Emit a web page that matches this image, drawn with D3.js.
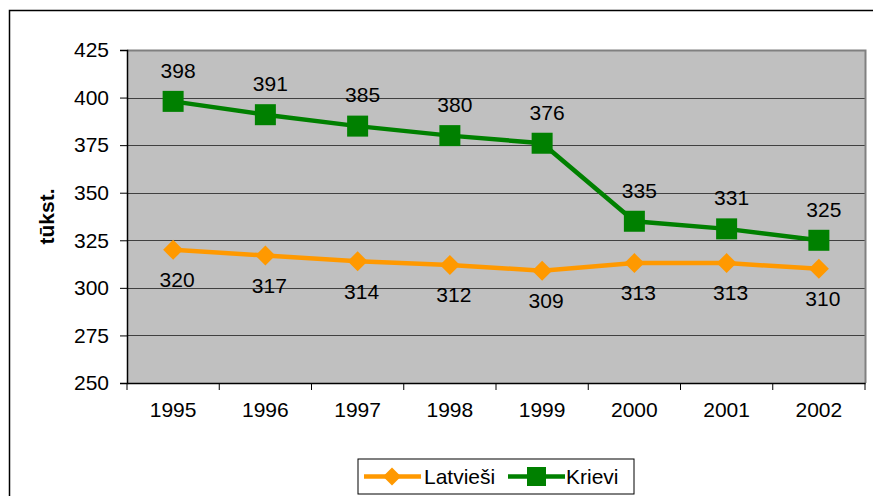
<!DOCTYPE html>
<html><head><meta charset="utf-8">
<script src="https://cdn.jsdelivr.net/npm/d3@7/dist/d3.min.js"></script>
<style>body{margin:0;background:#fff;}svg{display:block;font-family:"Liberation Sans",Arial,sans-serif;}</style>
</head><body><svg id="c" width="873" height="496"></svg>
<script>
const years = ["1995","1996","1997","1998","1999","2000","2001","2002"];
const latviesi = [320,317,314,312,309,313,313,310];
const krievi = [398,391,385,380,376,335,331,325];
const yTicks = [250,275,300,325,350,375,400,425];
const seriesNames = ["Latvieši","Krievi"];
const axisTitle = "tūkst.";

const FS = 21;
const svg = d3.select("#c");
const L=127, T=50, R=865, B=383;
// outer border
svg.append("rect").attr("x",9.5).attr("y",10.5).attr("width",880).attr("height",500)
  .attr("fill","#fff").attr("stroke","#000").attr("stroke-width",1.5);

const x = d3.scaleBand().domain(years).range([L,R]).padding(0);
const y = d3.scaleLinear().domain([250,425]).range([B,T]);

svg.append("rect").attr("x",L).attr("y",T).attr("width",R-L).attr("height",B-T).attr("fill","#C0C0C0");
// gridlines
svg.append("g").selectAll("line").data(yTicks.filter(d=>d>250)).join("line")
  .attr("x1",L).attr("x2",R).attr("y1",d=>Math.round(y(d))+0.5).attr("y2",d=>Math.round(y(d))+0.5)
  .attr("stroke","#404040").attr("stroke-width",1);
// plot border top/right gray
svg.append("path").attr("d",`M${L},${T+0.5}H${R+0.5}V${B}`).attr("fill","none").attr("stroke","#808080").attr("stroke-width",2);

// y axis
const ya = svg.append("g").attr("transform",`translate(${L},0)`)
  .call(d3.axisLeft(y).tickValues(yTicks).tickSize(7).tickPadding(11).tickFormat(d3.format("d")));
ya.select(".domain").attr("stroke","#000").attr("stroke-width",1.5);
ya.selectAll(".tick line").attr("stroke","#000");
ya.selectAll("text").attr("font-size",FS).attr("font-family","Liberation Sans, Arial, sans-serif").attr("fill","#000");

// x axis
const xa = svg.append("g").attr("transform",`translate(0,${B})`)
  .call(d3.axisBottom(x).tickSize(0).tickPadding(19));
xa.select(".domain").attr("stroke","#000").attr("stroke-width",1.5);
xa.selectAll("text").attr("font-size",FS).attr("font-family","Liberation Sans, Arial, sans-serif").attr("fill","#000");
svg.append("g").selectAll("line").data(d3.range(years.length+1)).join("line")
  .attr("x1",i=>L+i*x.step()).attr("x2",i=>L+i*x.step())
  .attr("y1",B).attr("y2",B+7).attr("stroke","#000").attr("stroke-width",1);

svg.append("text").attr("transform",`translate(47,${(T+B)/2}) rotate(-90)`)
  .attr("text-anchor","middle").attr("dy","0.35em").attr("font-size",21).attr("font-weight","bold").text(axisTitle);

const cx = d=>x(d)+x.bandwidth()/2;
const line = d3.line().x((d,i)=>cx(years[i])).y(d=>y(d));

// Latviesi
svg.append("path").datum(latviesi).attr("d",line).attr("fill","none").attr("stroke","#FF9900").attr("stroke-width",4.5);
svg.append("g").selectAll("path").data(latviesi).join("path")
  .attr("transform",(d,i)=>`translate(${cx(years[i])},${y(d)})`)
  .attr("d","M0,-10L10,0L0,10L-10,0Z").attr("fill","#FF9900");
// Krievi
svg.append("path").datum(krievi).attr("d",line).attr("fill","none").attr("stroke","#008000").attr("stroke-width",4.5);
svg.append("g").selectAll("rect").data(krievi).join("rect")
  .attr("x",(d,i)=>cx(years[i])-10.5).attr("y",d=>y(d)-10.5).attr("width",21).attr("height",21).attr("fill","#008000");

// labels
svg.append("g").selectAll("text").data(krievi).join("text")
  .attr("x",(d,i)=>cx(years[i])+5).attr("y",d=>y(d)-31).attr("dy","0.35em")
  .attr("text-anchor","middle").attr("font-size",FS).text(d=>d);
svg.append("g").selectAll("text").data(latviesi).join("text")
  .attr("x",(d,i)=>cx(years[i])+4).attr("y",d=>y(d)+30).attr("dy","0.35em")
  .attr("text-anchor","middle").attr("font-size",FS).text(d=>d);

// legend
const lg = svg.append("g");
lg.append("rect").attr("x",358).attr("y",459).attr("width",276).attr("height",35).attr("fill","#fff").attr("stroke","#000").attr("stroke-width",1);
const ly = 476.5;
lg.append("line").attr("x1",364).attr("x2",421).attr("y1",ly).attr("y2",ly).attr("stroke","#FF9900").attr("stroke-width",4.5);
lg.append("path").attr("transform",`translate(392,${ly})`).attr("d","M0,-9L9,0L0,9L-9,0Z").attr("fill","#FF9900");
lg.append("text").attr("x",424).attr("y",ly).attr("dy","0.35em").attr("font-size",FS).text(seriesNames[0]);
lg.append("line").attr("x1",508).attr("x2",565).attr("y1",ly).attr("y2",ly).attr("stroke","#008000").attr("stroke-width",4.5);
lg.append("rect").attr("x",527).attr("y",ly-9.5).attr("width",19).attr("height",19).attr("fill","#008000");
lg.append("text").attr("x",566).attr("y",ly).attr("dy","0.35em").attr("font-size",FS).text(seriesNames[1]);
</script></body></html>
